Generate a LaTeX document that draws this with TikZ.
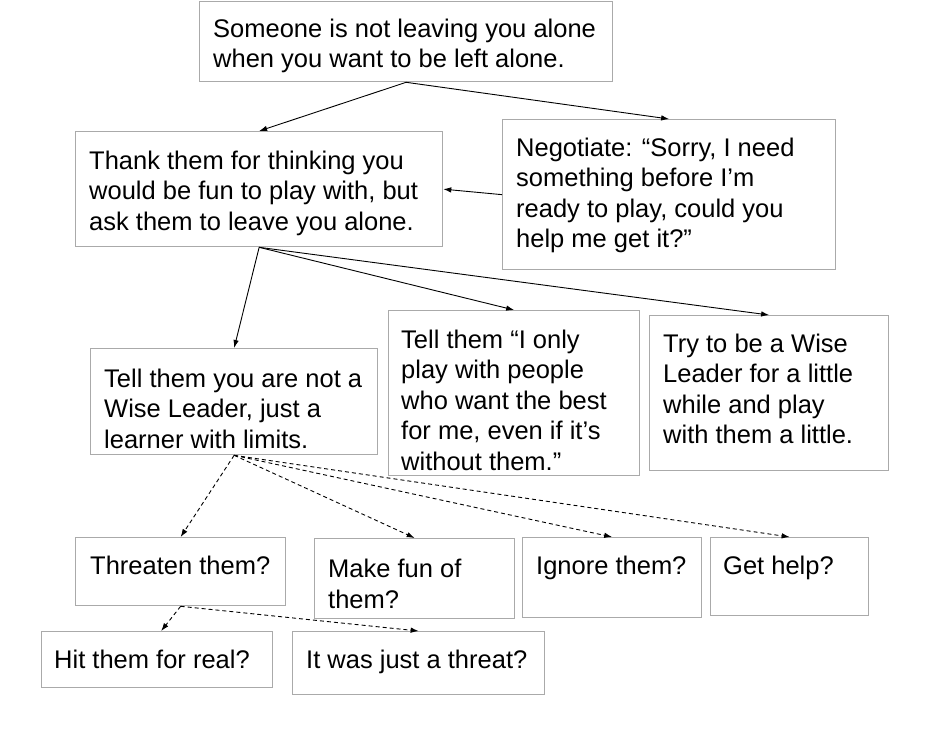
\documentclass[tikz,border=0pt]{standalone}
\usepackage{fontspec}
\setmainfont{Liberation Sans}
\usetikzlibrary{arrows.meta}
\definecolor{boxgray}{RGB}{170,170,170}
\begin{document}
\begin{tikzpicture}[x=1pt,y=-1pt,
  box/.style={draw=boxgray,line width=1.3pt,inner sep=0pt,anchor=north west},
  txt/.style={inner sep=0pt,anchor=base west,align=left,font=\fontsize{25.5}{30.5}\selectfont},
  arr/.style={black,line width=0.9pt,-{Latex[length=8pt,width=5.5pt]}},
  darr/.style={arr,dash pattern=on 4pt off 3pt}]
\useasboundingbox[fill=white] (0,0) rectangle (930,748);
% boxes
\node[box,minimum width=413pt,minimum height=80pt] (top) at (199,1) {};
\node[box,minimum width=367pt,minimum height=115pt] (thank) at (75,131) {};
\node[box,minimum width=333pt,minimum height=150pt] (nego) at (502,119) {};
\node[box,minimum width=287pt,minimum height=106pt] (wl) at (90,348) {};
\node[box,minimum width=251pt,minimum height=165pt] (only) at (388,310) {};
\node[box,minimum width=239pt,minimum height=155pt] (try) at (649,315) {};
\node[box,minimum width=210pt,minimum height=68pt] (threaten) at (75,537) {};
\node[box,minimum width=200pt,minimum height=80pt] (makefun) at (314,538) {};
\node[box,minimum width=179pt,minimum height=80pt] (ignore) at (522,537) {};
\node[box,minimum width=158pt,minimum height=78pt] (gethelp) at (710,537) {};
\node[box,minimum width=231pt,minimum height=56pt] (hit) at (41,631) {};
\node[box,minimum width=252pt,minimum height=63pt] (threat) at (292,631) {};
% texts (anchored at the baseline of the last line)
\node[txt] (topT) at (213,67.5) {Someone is not leaving you alone\\when you want to be left alone.};
\node[txt] (thankT) at (89,230) {Thank them for thinking you\\would be fun to play with, but\\ask them to leave you alone.};
\node[txt] (negoT) at (516,247.5) {Negotiate: “Sorry, I need\\something before I’m\\ready to play, could you\\help me get it?”};
\node[txt] (wlT) at (104,448) {Tell them you are not a\\Wise Leader, just a\\learner with limits.};
\node[txt] (onlyT) at (401,470) {Tell them “I only\\play with people\\who want the best\\for me, even if it’s\\without them.”};
\node[txt] (tryT) at (663,443.5) {Try to be a Wise\\Leader for a little\\while and play\\with them a little.};
\node[txt] (threatenT) at (90,574) {Threaten them?};
\node[txt] (makefunT) at (328,608) {Make fun of\\them?};
\node[txt] (ignoreT) at (536,574) {Ignore them?};
\node[txt] (gethelpT) at (723,574) {Get help?};
\node[txt] (hitT) at (54,668) {Hit them for real?};
\node[txt] (threatT) at (306,668) {It was just a threat?};
% connectors
\draw[arr] (top.south) -- (thank.north);
\draw[arr] (top.south) -- (nego.north);
\draw[arr] (nego.west) -- (thank.east);
\draw[arr] (thank.south) -- (wl.north);
\draw[arr] (thank.south) -- (only.north);
\draw[arr] (thank.south) -- (try.north);
\draw[darr] (wl.south) -- (threaten.north);
\draw[darr] (wl.south) -- (makefun.north);
\draw[darr] (wl.south) -- (ignore.north);
\draw[darr] (wl.south) -- (gethelp.north);
\draw[darr] (threaten.south) -- ([xshift=4pt]hit.north);
\draw[darr] (threaten.south) -- (threat.north);
\end{tikzpicture}
\end{document}
